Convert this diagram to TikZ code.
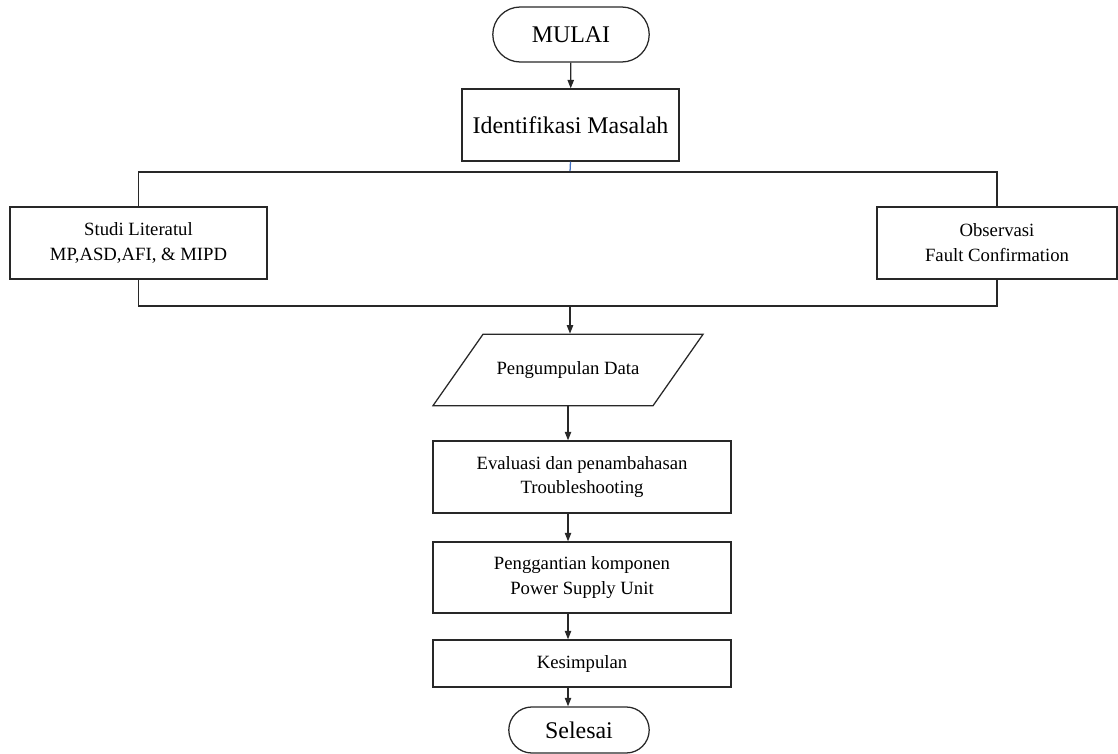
\documentclass[tikz,border=0pt]{standalone}
\usepackage{fontspec}
\setmainfont{Liberation Serif}
\usetikzlibrary{shapes.geometric,shapes.misc,arrows.meta}
\definecolor{LineGray}{RGB}{40, 40, 40}
\definecolor{LinkBlue}{RGB}{68, 114, 196}

\begin{document}
\begin{tikzpicture}[x=0.025cm, y=-0.025cm,
    box/.style={draw=LineGray, line width=0.9pt, rectangle, align=center, inner sep=2pt, font=\fontsize{13.3}{17.7}\selectfont},
    term/.style={draw=LineGray, line width=0.9pt, rounded rectangle, inner sep=2pt, font=\fontsize{17}{20}\selectfont},
    io/.style={draw=LineGray, line width=0.9pt, trapezium, trapezium left angle=55, trapezium right angle=125, inner xsep=0.34cm, inner ysep=0.68cm, font=\fontsize{13.3}{17.7}\selectfont},
    flow/.style={-{Triangle[length=6pt,width=4.5pt]}, line width=0.9pt, LineGray},
    bus/.style={line width=0.9pt, LineGray}]
            \useasboundingbox (0,0) rectangle (1118,754);

            % Start and problem
            \node[term, minimum width=4.05cm, minimum height=1.375cm] (mulai) at (571,34.5) {MULAI};
            \node[box, font=\fontsize{17}{20}\selectfont, minimum width=5.425cm, minimum height=1.8cm] (ident) at (570.5,125) {Identifikasi Masalah};

            % Two parallel branches
            \node[box, minimum width=6.425cm, minimum height=1.8cm] (studi) at (138.5,243) {Studi Literatul\\MP,ASD,AFI, \& MIPD};
            \node[box, minimum width=6cm, minimum height=1.8cm] (obs) at (997,243) {Observasi\\Fault Confirmation};
            \coordinate (bustop) at (570,172);
            \coordinate (busbot) at (570,306);

            % Main steps
            \node[io] (data) at (568,370) {Pengumpulan Data};
            \node[box, minimum width=7.45cm, minimum height=1.8cm] (eval) at (582,477) {Evaluasi dan penambahasan\\Troubleshooting};
            \node[box, minimum width=7.45cm, minimum height=1.775cm] (ganti) at (582,577.5) {Penggantian komponen\\Power Supply Unit};
            \node[box, minimum width=7.45cm, minimum height=1.175cm] (simpul) at (582,663.5) {Kesimpulan};
            \node[term, minimum width=3.65cm, minimum height=1.15cm] (selesai) at (579,730) {Selesai};

            % Arrows
            \draw[flow] (mulai) -- (ident);
            \draw[line width=0.9pt, LinkBlue] (ident.south) -- (bustop);
            \draw[bus] (studi.north) |- (bustop) -| (obs.north);
            \draw[bus] (studi.south) |- (busbot) -| (obs.south);
            \draw[flow] (busbot) -- (busbot |- data.north);
            \draw[flow] (data.south) -- (data.south |- eval.north);
            \draw[flow] (data.south |- eval.south) -- (data.south |- ganti.north);
            \draw[flow] (data.south |- ganti.south) -- (data.south |- simpul.north);
            \draw[flow] (data.south |- simpul.south) -- (data.south |- selesai.north);
        \end{tikzpicture}
\end{document}
